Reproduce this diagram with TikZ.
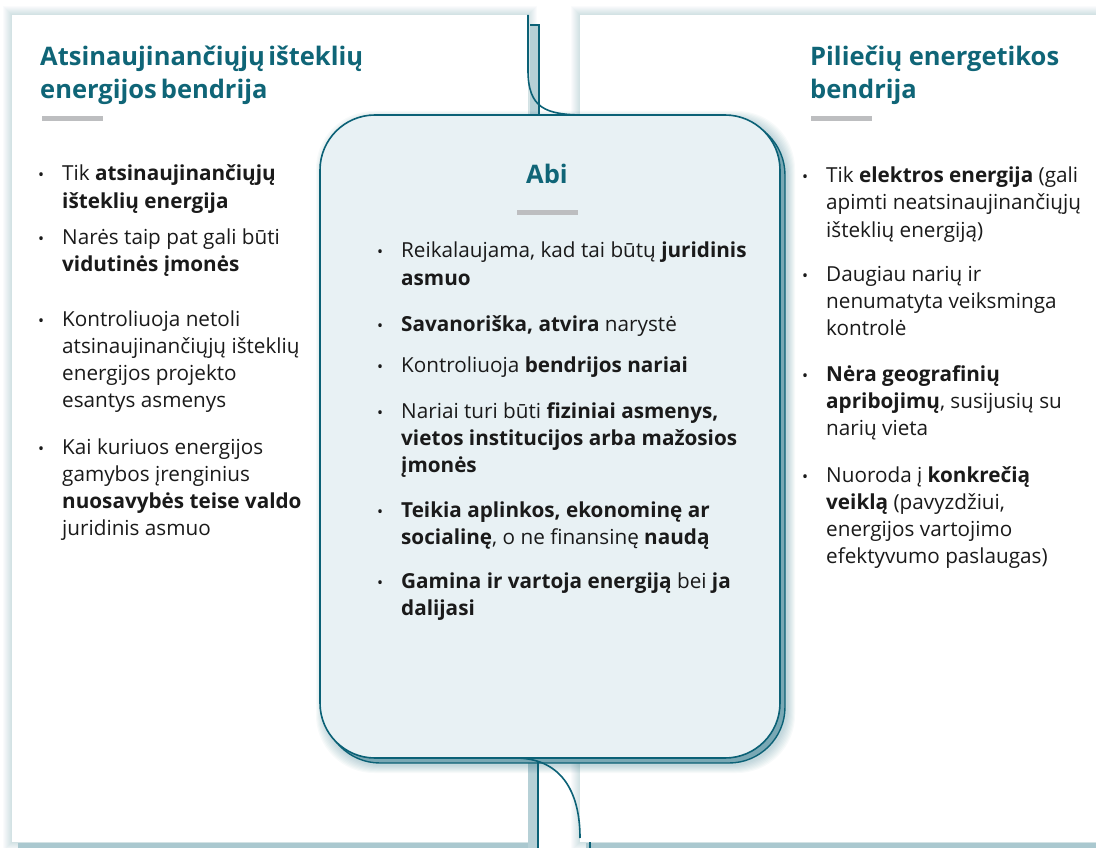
\documentclass[tikz,border=0pt]{standalone}
\usepackage{fontspec}
\setmainfont{Open Sans}
\definecolor{teal1}{HTML}{0B6176}
\definecolor{ttl}{HTML}{0F6577}
\definecolor{boxfill}{HTML}{E8F1F4}
\definecolor{bargray}{HTML}{BDBEC0}
\definecolor{txt}{HTML}{1A1A1A}
\begin{document}
\begin{tikzpicture}[x=1pt,y=-1pt,
  bt/.style={anchor=base west, inner sep=0pt, font=\fontsize{20.7}{27}\selectfont, text=txt},
  bul/.style={anchor=base west, inner sep=0pt, font=\fontsize{16}{27}\selectfont, text=txt},
  ttlstyle/.style={anchor=base west, inner sep=0pt, font=\fontsize{25.5}{33}\selectfont\bfseries, text=ttl},
  graybar/.style={fill=bargray},
  fold/.style={draw=teal1, line width=1.6pt},
  panel/.style={fill=white}]
\useasboundingbox (0,0) rectangle (1096,848);
\fill[white] (0,0) rectangle (1096,848);
% panel shadows
\foreach \k in {1,...,9}{
  \fill[teal1, opacity=0.02] (12-\k,15-\k) rectangle (528+\k,842+\k);
  \fill[teal1, opacity=0.02] (580-\k,15-\k) rectangle (1100,842+\k);
}
\fill[teal1!35] (18,843) rectangle (528,848);
\fill[teal1!35] (586,843) rectangle (1096,848);
% panels
\fill[panel] (12,15) rectangle (528,842);
\fill[panel] (580,15) rectangle (1096,842);
% fold strips
\fill[teal1!30] (530,25) rectangle (539,116);
\draw[teal1, line width=1.2pt] (530,25) -- (539,25) -- (539,116);
\fill[teal1!30] (528,760) rectangle (538,848);
% central box shadow
\foreach \k in {1,...,8}{
  \fill[teal1, opacity=0.03, rounded corners=58] (324-\k,119-\k) rectangle (787+\k,765+\k);
}
\fill[teal1!55, rounded corners=56] (324,119) rectangle (785,763);
\draw[teal1, line width=1.4pt, rounded corners=56] (324,119) rectangle (785,763);
% central box
\draw[teal1, line width=1.6pt, fill=boxfill, rounded corners=55] (320,115) rectangle (780,758);
% fold curves
\draw[fold] (528,15) -- (528,70) .. controls (528,108) and (545,115) .. (585,115);
\draw[fold] (515,758) .. controls (560,758) and (580,790) .. (580,838);
\draw[teal1, line width=1.4pt] (538,762) -- (538,848);
\draw[teal1, line width=1.4pt] (590,842) -- (590,848);

% titles
\node[ttlstyle] (tl1) at (40,66) {Atsinaujinančiųjų\hspace{-0.12em} išteklių};
\node[ttlstyle] (tl2) at (40,99) {energijos\hspace{-0.1em} bendrija};
\fill[graybar] (42,116) rectangle (103,121);
\node[ttlstyle] (tr1) at (810,66) {Piliečių energetikos};
\node[ttlstyle] (tr2) at (810,99) {bendrija};
\fill[graybar] (811,116) rectangle (872,121);
\node[ttlstyle, anchor=base] (tm) at (547,184) {Abi};
\fill[graybar] (517,210) rectangle (578,215);

% left column
\node[bul] (lb1) at (38,181) {•};
\node[bt] (l1a) at (62,181) {Tik \textbf{atsinaujinančiųjų}};
\node[bt] (l1b) at (62,208) {\textbf{išteklių energija}};
\node[bul] (lb2) at (38,244) {•};
\node[bt] (l2a) at (62,244) {Narės taip pat gali būti};
\node[bt] (l2b) at (62,271) {\textbf{vidutinės įmonės}};
\node[bul] (lb3) at (38,326) {•};
\node[bt] (l3a) at (62,326) {Kontroliuoja netoli};
\node[bt] (l3b) at (62,353) {atsinaujinančiųjų išteklių};
\node[bt] (l3c) at (62,380) {energijos projekto};
\node[bt] (l3d) at (62,407) {esantys asmenys};
\node[bul] (lb4) at (38,454) {•};
\node[bt] (l4a) at (62,454) {Kai kuriuos energijos};
\node[bt] (l4b) at (62,481) {gamybos įrenginius};
\node[bt] (l4c) at (62,508) {\textbf{nuosavybės teise valdo}};
\node[bt] (l4d) at (62,535) {juridinis asmuo};

% middle column
\node[bul] (mb1) at (377,258) {•};
\node[bt] (m1a) at (401,258) {Reikalaujama, kad tai būtų \textbf{juridinis}};
\node[bt] (m1b) at (401,285) {\textbf{asmuo}};
\node[bul] (mb2) at (377,331) {•};
\node[bt] (m2a) at (401,331) {\textbf{Savanoriška, atvira} narystė};
\node[bul] (mb3) at (377,372) {•};
\node[bt] (m3a) at (401,372) {Kontroliuoja \textbf{bendrijos nariai}};
\node[bul] (mb4) at (377,418) {•};
\node[bt] (m4a) at (401,418) {Nariai turi būti \textbf{fiziniai asmenys,}};
\node[bt] (m4b) at (401,445) {\textbf{vietos institucijos arba mažosios}};
\node[bt] (m4c) at (401,472) {\textbf{įmonės}};
\node[bul] (mb5) at (377,517) {•};
\node[bt] (m5a) at (401,517) {\textbf{Teikia aplinkos, ekonominę ar}};
\node[bt] (m5b) at (401,544) {\textbf{socialinę}, o ne finansinę \textbf{naudą}};
\node[bul] (mb6) at (377,588) {•};
\node[bt] (m6a) at (401,588) {\textbf{Gamina ir vartoja energiją} bei \textbf{ja}};
\node[bt] (m6b) at (401,615) {\textbf{dalijasi}};

% right column
\node[bul] (rb1) at (802,183) {•};
\node[bt] (r1a) at (826,183) {Tik \textbf{elektros energija} (gali};
\node[bt] (r1b) at (826,210) {apimti neatsinaujinančiųjų};
\node[bt] (r1c) at (826,237) {išteklių energiją)};
\node[bul] (rb2) at (802,281) {•};
\node[bt] (r2a) at (826,281) {Daugiau narių ir};
\node[bt] (r2b) at (826,308) {nenumatyta veiksminga};
\node[bt] (r2c) at (826,335) {kontrolė};
\node[bul] (rb3) at (802,381) {•};
\node[bt] (r3a) at (826,381) {\textbf{Nėra geografinių}};
\node[bt] (r3b) at (826,408) {\textbf{apribojimų}, susijusių su};
\node[bt] (r3c) at (826,435) {narių vieta};
\node[bul] (rb4) at (802,482) {•};
\node[bt] (r4a) at (826,482) {Nuoroda į \textbf{konkrečią}};
\node[bt] (r4b) at (826,509) {\textbf{veiklą} (pavyzdžiui,};
\node[bt] (r4c) at (826,536) {energijos vartojimo};
\node[bt] (r4d) at (826,563) {efektyvumo paslaugas)};
\end{tikzpicture}
\end{document}
